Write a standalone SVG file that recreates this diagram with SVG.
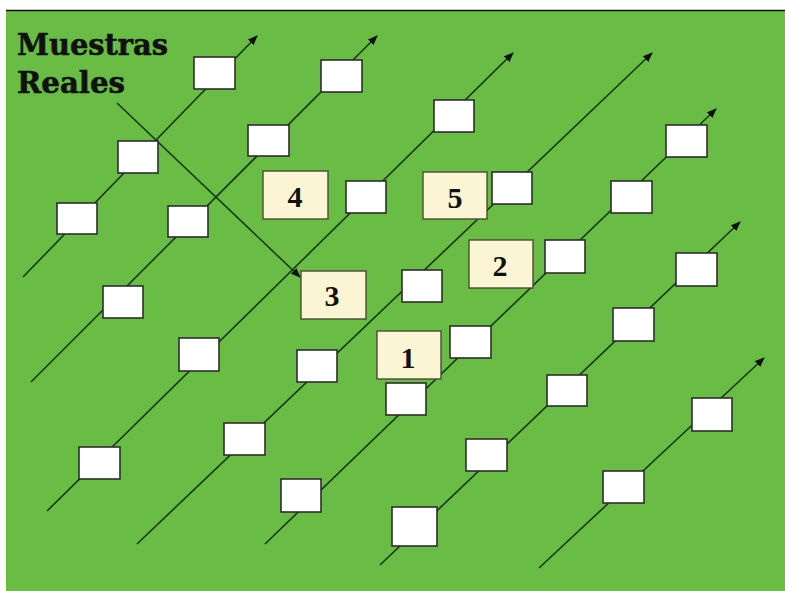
<svg xmlns="http://www.w3.org/2000/svg" width="785" height="591" viewBox="0 0 785 591">
<style>
.ln{stroke:#183818;stroke-width:1.6;fill:none}
.bx{fill:#ffffff;stroke:#2e2e2e;stroke-width:1.6}
.nb{fill:#fbf5d4;stroke:#4a4a3a;stroke-width:1.4}
.num{font-family:"Liberation Serif","Times New Roman",serif;font-weight:bold;font-size:30px;fill:#111;text-anchor:middle}
.ttl{font-family:"DejaVu Serif","Liberation Serif",serif;font-weight:bold;font-size:30px;fill:#111;stroke:#111;stroke-width:0.6}
</style>
<defs>
<marker id="ah" markerUnits="userSpaceOnUse" markerWidth="10" markerHeight="8" refX="9" refY="4" orient="auto">
<path d="M0,0 L10,4 L0,8 Z" fill="#111"/>
</marker>
</defs>
<rect x="0" y="0" width="785" height="591" fill="#ffffff"/>
<rect x="6" y="10" width="779" height="581" fill="#69bd45"/>
<line x1="6" y1="10.5" x2="785" y2="10.5" stroke="#111" stroke-width="1.5"/>
<g id="connectors">
<line class="ln" x1="23" y1="277" x2="257" y2="36" marker-end="url(#ah)"/>
<line class="ln" x1="31" y1="382" x2="377" y2="36" marker-end="url(#ah)"/>
<line class="ln" x1="47" y1="511" x2="513" y2="53" marker-end="url(#ah)"/>
<line class="ln" x1="137" y1="544" x2="652" y2="53" marker-end="url(#ah)"/>
<line class="ln" x1="265" y1="544" x2="716" y2="109" marker-end="url(#ah)"/>
<line class="ln" x1="380" y1="565" x2="740" y2="222" marker-end="url(#ah)"/>
<line class="ln" x1="539" y1="568" x2="764" y2="358" marker-end="url(#ah)"/>
<line class="ln" x1="117" y1="103" x2="300" y2="277" marker-end="url(#ah)"/>
</g>
<g id="title">
<text class="ttl" x="17" y="55" textLength="151" lengthAdjust="spacingAndGlyphs">Muestras</text>
<text class="ttl" x="17" y="93" textLength="108" lengthAdjust="spacingAndGlyphs">Reales</text>
</g>
<g id="lineA">
<rect class="bx" x="57" y="203" width="40" height="31"/>
<rect class="bx" x="118" y="141" width="40" height="32"/>
<rect class="bx" x="194" y="57" width="41" height="32"/>
</g>
<g id="lineB">
<rect class="bx" x="103" y="286" width="40" height="32"/>
<rect class="bx" x="168" y="206" width="40" height="31"/>
<rect class="bx" x="248" y="125" width="41" height="31"/>
<rect class="bx" x="321" y="60" width="41" height="32"/>
</g>
<g id="lineC">
<rect class="bx" x="79" y="447" width="41" height="32"/>
<rect class="bx" x="179" y="338" width="40" height="33"/>
<rect class="bx" x="346" y="181" width="40" height="32"/>
<rect class="bx" x="434" y="100" width="40" height="32"/>
</g>
<g id="lineD">
<rect class="bx" x="224" y="423" width="41" height="32"/>
<rect class="bx" x="297" y="350" width="40" height="32"/>
<rect class="bx" x="402" y="270" width="40" height="32"/>
<rect class="bx" x="492" y="172" width="40" height="32"/>
</g>
<g id="lineE">
<rect class="bx" x="281" y="479" width="40" height="33"/>
<rect class="bx" x="386" y="383" width="40" height="32"/>
<rect class="bx" x="450" y="326" width="41" height="32"/>
<rect class="bx" x="545" y="240" width="40" height="33"/>
<rect class="bx" x="611" y="181" width="41" height="32"/>
<rect class="bx" x="666" y="125" width="41" height="32"/>
</g>
<g id="lineF">
<rect class="bx" x="392" y="507" width="45" height="39"/>
<rect class="bx" x="466" y="439" width="41" height="32"/>
<rect class="bx" x="547" y="375" width="40" height="31"/>
<rect class="bx" x="613" y="308" width="41" height="33"/>
<rect class="bx" x="676" y="253" width="41" height="33"/>
</g>
<g id="lineG">
<rect class="bx" x="603" y="471" width="41" height="32"/>
<rect class="bx" x="692" y="398" width="40" height="33"/>
</g>
<g id="n4"><rect class="nb" x="263" y="171" width="65" height="48"/><text class="num" x="295" y="207">4</text></g>
<g id="n5"><rect class="nb" x="423" y="172" width="64" height="47"/><text class="num" x="455" y="208">5</text></g>
<g id="n3"><rect class="nb" x="301" y="271" width="65" height="48"/><text class="num" x="332" y="306">3</text></g>
<g id="n2"><rect class="nb" x="469" y="240" width="64" height="48"/><text class="num" x="500" y="276">2</text></g>
<g id="n1"><rect class="nb" x="377" y="331" width="64" height="48"/><text class="num" x="408" y="368">1</text></g>
</svg>
